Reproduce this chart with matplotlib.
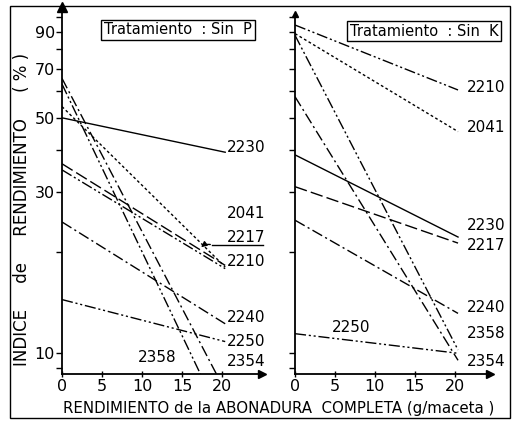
import matplotlib
matplotlib.use('Agg')
import matplotlib.pyplot as plt
from matplotlib.patches import Rectangle, FancyArrowPatch
from matplotlib.lines import Line2D
from matplotlib.ticker import NullFormatter

plt.rcParams['font.family'] = ['DejaVu Sans']

# datos: indice de rendimiento (%) a 0 y ~20 g/maceta
codigos_p = ['2230', '2041', '2217', '2210', '2240', '2250', '2358', '2354']
ini_p = [50, 54, 36.5, 35, 24.5, 14.4, 63, 65.5]
fin_p = [39.5, 18, 18.2, 17.8, 12.2, 10.8, 8.65, 8.65]
xfin_p = [20.4, 20.4, 20.4, 20.4, 20.4, 20.4, 17.3, 19.3]

codigos_k = ['2210', '2041', '2230', '2217', '2240', '2358', '2354', '2250']
ini_k = [94.4, 89, 38.8, 31.2, 24.8, 88, 57.8, 11.4]
fin_k = [60.5, 45.5, 22.1, 21.2, 13.1, 10.2, 9.5, 9.97]
xfin_k = [20.4] * 8

xticks = [0, 5, 10, 15, 20]
yticks = [10, 30, 50, 70, 90]
yticks_menor = [9, 20, 40, 60, 80, 100]

# estilo de trazo por variedad
estilos = {
    '2230': '-',
    '2041': (0, (2, 1.8)),
    '2217': (0, (9, 3)),
    '2210': (0, (8, 2, 1.5, 2, 1.5, 2)),
    '2240': (0, (8, 2.5, 1.5, 2.5)),
    '2250': (0, (8, 2, 1.5, 2, 1.5, 2)),
    '2358': (0, (8, 2, 1.5, 2, 1.5, 2)),
    '2354': (0, (8, 2.5, 1.5, 2.5)),
}

W, H = 512, 422


def px(x, y):
    return (x / W, 1 - y / H)


fig = plt.figure(figsize=(5.12, 4.22), dpi=100)
ax_p = fig.add_axes([62 / W, 48 / H, 200 / W, 367 / H])
ax_k = fig.add_axes([295 / W, 48 / H, 195 / W, 367 / H])

paneles = [
    (ax_p, codigos_p, ini_p, fin_p, xfin_p, 25.0),
    (ax_k, codigos_k, ini_k, fin_k, xfin_k, 24.4),
]

for ax, codigos, ini, fin, xfin, xmax in paneles:
    for c, a, b, xf in zip(codigos, ini, fin, xfin):
        ax.plot([0, xf], [a, b], color='k', lw=1, linestyle=estilos[c])
    ax.set_yscale('log')
    ax.set_ylim(8.65, 106.8)
    ax.set_xlim(0, xmax)
    ax.set_yticks(yticks)
    ax.set_yticks(yticks_menor, minor=True)
    ax.yaxis.set_minor_formatter(NullFormatter())
    ax.set_xticks(xticks)
    ax.set_xticklabels([str(t) for t in xticks], fontsize=11.5)
    ax.tick_params(axis='y', which='both', direction='out', length=4, width=1)
    ax.tick_params(axis='x', direction='inout', length=5, width=1, pad=1)
    for s in ['top', 'right']:
        ax.spines[s].set_visible(False)
    for s in ['left', 'bottom']:
        ax.spines[s].set_linewidth(1.3)
    ax.patch.set_visible(False)
    ax.plot(1, 0, marker='>', color='k', ms=6, transform=ax.transAxes, clip_on=False)

ax_p.set_yticklabels([str(t) for t in yticks], fontsize=11.5)
ax_p.tick_params(axis='y', pad=1)
ax_k.set_yticklabels([])
ax_p.plot(0, 1, marker='^', color='k', ms=7, transform=ax_p.transAxes, clip_on=False)
ax_k.spines['left'].set_bounds(8.65, 102)
ax_k.plot(0, 102, marker='^', color='k', ms=4, clip_on=False)

# titulos en recuadro
fig.text(*px(178, 30), 'Tratamiento  : Sin  P', fontsize=10.5, ha='center', va='center',
         bbox=dict(boxstyle='square,pad=0.18', fc='white', ec='k', lw=1))
fig.text(*px(424, 31), 'Tratamiento  : Sin  K', fontsize=10.5, ha='center', va='center',
         bbox=dict(boxstyle='square,pad=0.18', fc='white', ec='k', lw=1))

# etiquetas de las variedades
etiq_p = {'2230': (227, 147), '2041': (227, 213), '2217': (227, 237), '2210': (227, 262),
          '2240': (227, 317), '2250': (227, 342), '2354': (227, 362), '2358': (138, 357)}
etiq_k = {'2210': (467, 88), '2041': (467, 128), '2230': (467, 226), '2217': (467, 245),
          '2240': (467, 307), '2358': (467, 333), '2354': (467, 362), '2250': (332, 328)}
for d in (etiq_p, etiq_k):
    for c, (x, y) in d.items():
        fig.text(*px(x, y), c, fontsize=11, ha='left', va='center')

# flecha del 2217
fig.add_artist(Line2D([212 / W, 263 / W], [1 - 245 / H, 1 - 245 / H], color='k', lw=1,
                      transform=fig.transFigure))
fig.add_artist(FancyArrowPatch(
    px(213, 245), px(199, 249), transform=fig.transFigure, arrowstyle='-|>',
    mutation_scale=8, connectionstyle='arc3,rad=0.3', color='k', lw=1))

fig.text(*px(22, 209), 'INDICE     de     RENDIMIENTO     ( % )', rotation=90,
         fontsize=12, ha='center', va='center')
fig.text(*px(279, 409), 'RENDIMIENTO de la ABONADURA  COMPLETA (g/maceta )',
         fontsize=10.8, ha='center', va='center')

# marco exterior
fig.add_artist(Rectangle(px(10, 418), 500 / W, 412 / H, transform=fig.transFigure,
                         fill=False, ec='k', lw=1))

fig.savefig('out.png', dpi=100)
